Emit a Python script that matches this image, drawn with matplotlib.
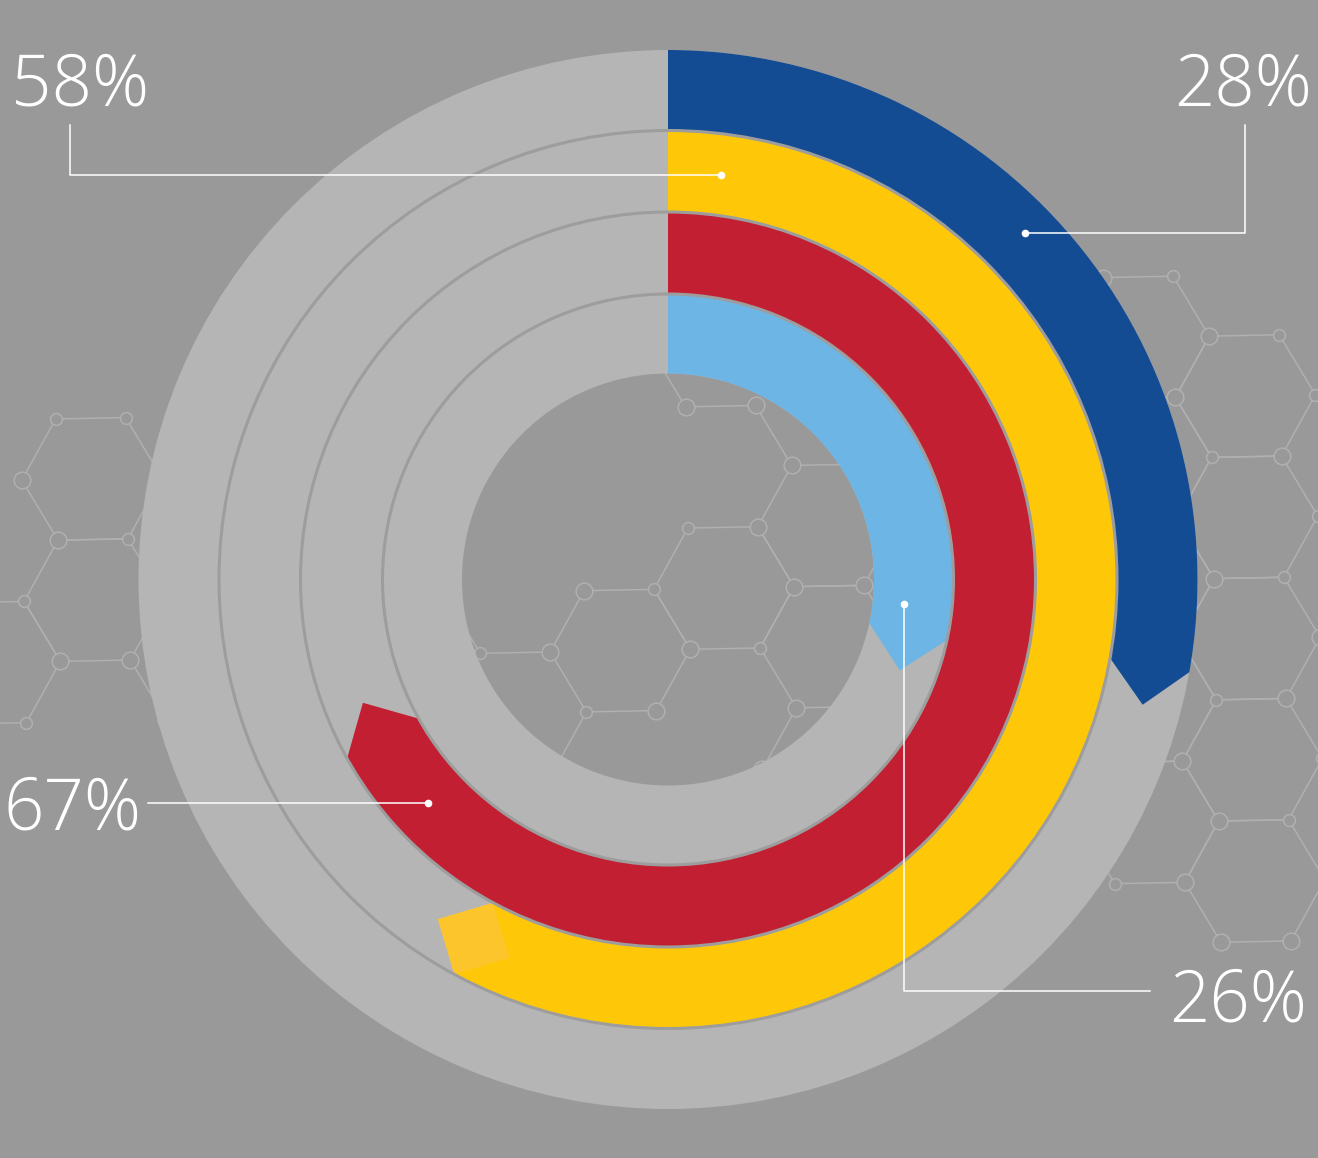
import numpy as np
import matplotlib.pyplot as plt
from matplotlib.patches import Wedge, Circle, Polygon

W, H = 1318, 1158

# values, outer ring first
labels = ['28%', '58%', '67%', '26%']
pct_arc = [27.8, 57.9, 66.9, 28.4]   # sweep as drawn in the picture
colors = ['#144c94', '#fec808', '#c21f32', '#6db5e5']
tip_colors = ['#144c94', '#fdc52c', '#c21f32', '#6db5e5']

# ring geometry (pixels)
cx, cy = 668, H - 579.5
ring_edges = [529.5, 449, 367.5, 285.5, 206]

bg = '#999999'
track = '#b5b5b5'
hexcol = '#b0b0b0'

# leader lines in image pixels (y down), text anchor + align
leaders = [
    [(1245, 125), (1245, 233), (1025, 233)],
    [(70, 125), (70, 175), (721, 175)],
    [(148, 803), (428, 803)],
    [(1150, 991), (904, 991), (904, 604)],
]
text_pos = [(1312, 106, 'right'), (11, 106, 'left'), (4, 830, 'left'), (1169, 1021, 'left')]

# honeycomb background: full cells and single edges of cells
hex_full = [(-6, 2), (-6, 3), (-7, 4),
            (4, -4), (5, -4), (5, -3), (5, -2), (5, -1), (5, 0), (4, 0), (4, -1), (4, -2), (4, -3),
            (0, 0), (-1, 1), (1, -1), (1, 0)]
hex_part = [(-6, 4, 5), (0, -1, 4), (0, -1, 5), (0, 1, 0), (-2, 1, 1), (-2, 1, 2),
            (-1, 2, 3), (-1, -1, 5)]

s = 70
phi = np.deg2rad(-1.1)
c0 = np.array([724.0, 588.0])


def rot(v):
    return np.array([v[0] * np.cos(phi) - v[1] * np.sin(phi),
                     v[0] * np.sin(phi) + v[1] * np.cos(phi)])


def hex_vertex(i, j, k):
    c = c0 + rot((1.5 * s * i, np.sqrt(3) / 2 * s * i + np.sqrt(3) * s * j))
    a = np.deg2rad(60 * k) + phi
    p = c + s * np.array([np.cos(a), np.sin(a)])
    return (p[0], H - p[1])


fig = plt.figure(figsize=(W / 100, H / 100), dpi=100, facecolor=bg)
ax = fig.add_axes([0, 0, 1, 1])
ax.set_xlim(0, W)
ax.set_ylim(0, H)
ax.set_aspect('equal')
ax.axis('off')
ax.set_facecolor(bg)

edges = []
for i, j in hex_full:
    for k in range(6):
        edges.append((i, j, k))
edges += hex_part
nodes = {}
for i, j, k in edges:
    p1 = hex_vertex(i, j, k)
    p2 = hex_vertex(i, j, (k + 1) % 6)
    ax.plot([p1[0], p2[0]], [p1[1], p2[1]], color=hexcol, lw=1.1, zorder=1)
    for p in (p1, p2):
        nodes[(round(p[0] / 8), round(p[1] / 8))] = p
for key, p in nodes.items():
    big = (key[0] + key[1]) % 2 == 0
    ax.plot(p[0], p[1], 'o', ms=12 if big else 8.5, mfc=bg, mec=hexcol, mew=1.1, zorder=2)

# track
ax.add_patch(Wedge((cx, cy), ring_edges[0], 0, 360, width=ring_edges[0] - ring_edges[-1],
                   facecolor=track, edgecolor='none', zorder=3))

# bars with pointed ends
for n, p in enumerate(pct_arc):
    r_out, r_in = ring_edges[n], ring_edges[n + 1]
    end = 90 - 3.6 * p
    ax.add_patch(Wedge((cx, cy), r_out, end, 90, width=r_out - r_in,
                       facecolor=colors[n], edgecolor='none', zorder=4))
    a = np.deg2rad(end)
    u = np.array([np.cos(a), np.sin(a)])
    t = np.array([np.sin(a), -np.cos(a)])
    c = np.array([cx, cy])
    pin = c + r_in * u
    pout = c + r_out * u
    mid = (pin + pout) / 2
    h = (r_out - r_in) / 2
    sq = [pin, mid + h * t, pout, mid - h * t]
    ax.add_patch(Polygon(sq, closed=True, facecolor=tip_colors[n], edgecolor='none', zorder=5))

for r in ring_edges[1:-1]:
    ax.add_patch(Circle((cx, cy), r, fill=False, lw=2.2, ec='#9d9d9d', zorder=6))

# labels and leader lines
for n, path in enumerate(leaders):
    xs = [q[0] for q in path]
    ys = [H - q[1] for q in path]
    ax.plot(xs, ys, color='white', lw=1.1, zorder=7)
    ax.plot(xs[-1], ys[-1], 'o', color='white', ms=4.5, zorder=7)
    tx, ty, ha = text_pos[n]
    ax.text(tx, H - ty, labels[n], color='white', fontsize=51, ha=ha, va='baseline',
            family=['Open Sans', 'DejaVu Sans'], fontweight='light', zorder=8)

fig.savefig('out.png', dpi=100, facecolor=bg)
